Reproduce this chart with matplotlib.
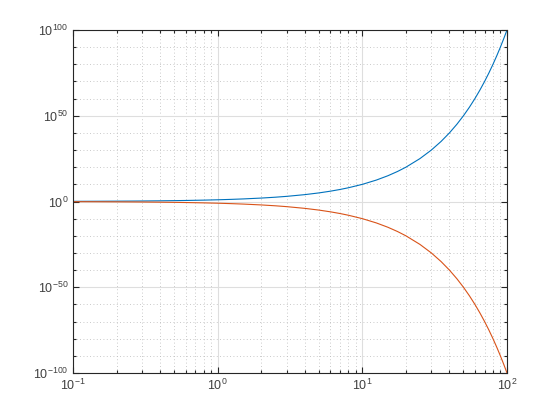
import matplotlib
matplotlib.use("Agg")
import matplotlib.pyplot as plt
from matplotlib.ticker import FixedLocator, NullFormatter
import numpy as np

# x values read along the axis, and exponents (log10 of y) of each curve
x_vals = [0.1, 0.125, 0.15, 0.2, 0.25, 0.3, 0.4, 0.5, 0.6, 0.8, 1.0, 1.25, 1.5, 2.0,
          2.5, 3.0, 4.0, 5.0, 6.0, 7.0, 8.0, 10.0, 12.5, 15.0, 17.5, 20.0, 25.0, 30.0,
          35.0, 40.0, 45.0, 50.0, 55.0, 60.0, 65.0, 70.0, 75.0, 80.0, 85.0, 90.0, 95.0, 100.0]
up_exp = [0.1, 0.125, 0.15, 0.2, 0.25, 0.3, 0.4, 0.5, 0.6, 0.8, 1.0, 1.25, 1.5, 2.0,
          2.5, 3.0, 4.0, 5.0, 6.0, 7.0, 8.0, 10.0, 12.5, 15.0, 17.5, 20.0, 25.0, 30.0,
          35.0, 40.0, 45.0, 50.0, 55.0, 60.0, 65.0, 70.0, 75.0, 80.0, 85.0, 90.0, 95.0, 100.0]
down_exp = [-v for v in up_exp]

x_ticks = [0.1, 1, 10, 100]
x_labels = ['$10^{-1}$', '$10^{0}$', '$10^{1}$', '$10^{2}$']
y_ticks = [1e-100, 1e-50, 1e0, 1e50, 1e100]
y_labels = ['$10^{-100}$', '$10^{-50}$', '$10^{0}$', '$10^{50}$', '$10^{100}$']

y_up = [10.0 ** e for e in up_exp]
y_down = [10.0 ** e for e in down_exp]

plt.rcParams['font.family'] = ['Liberation Sans', 'DejaVu Sans']
plt.rcParams['mathtext.fontset'] = 'custom'
plt.rcParams['mathtext.rm'] = 'Liberation Sans'
plt.rcParams['mathtext.it'] = 'Liberation Sans'

fig = plt.figure(figsize=(5.6, 4.2), dpi=100)
ax = fig.add_axes([73/560, 47/420, (507-73)/560, (373-30)/420])

ax.loglog(x_vals, y_up, color='#0072BD', lw=0.8)
ax.loglog(x_vals, y_down, color='#D95319', lw=0.8)

ax.set_xlim(0.1, 100)
ax.set_ylim(1e-100, 1e100)

ax.xaxis.set_major_locator(FixedLocator(x_ticks))
ax.set_xticklabels(x_labels)
minor_x = [m * d for d in [0.1, 1, 10] for m in range(2, 10)]
ax.xaxis.set_minor_locator(FixedLocator(minor_x))
ax.xaxis.set_minor_formatter(NullFormatter())

ax.yaxis.set_major_locator(FixedLocator(y_ticks))
ax.set_yticklabels(y_labels)
minor_y = [10.0 ** e for e in range(-100, 101, 10) if e % 50 != 0]
ax.yaxis.set_minor_locator(FixedLocator(minor_y))
ax.yaxis.set_minor_formatter(NullFormatter())

ax.grid(True, which='major', color='#dedede', linestyle='-', lw=0.8)
ax.grid(True, which='minor', color='#b8b8b8', linestyle=(0, (1, 3)), lw=0.6)
ax.set_axisbelow(True)

ax.tick_params(which='both', direction='in', top=True, right=True,
               colors='#262626', labelcolor='#404040', labelsize=9, width=0.8)
ax.tick_params(which='major', length=4.5)
ax.tick_params(which='minor', length=2.5)
for s in ax.spines.values():
    s.set_color('#262626')
    s.set_linewidth(0.8)

fig.savefig('out.png', dpi=100)
